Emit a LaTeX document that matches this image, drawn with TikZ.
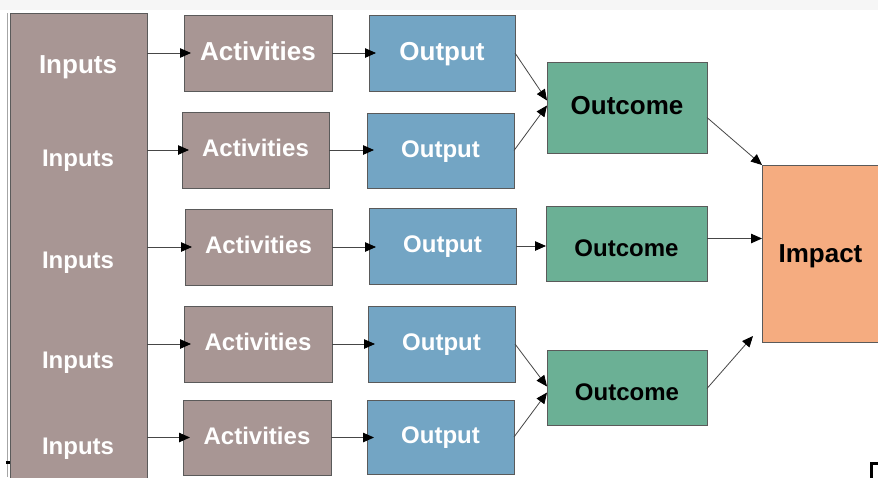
\documentclass[tikz,border=0pt]{standalone}
\usepackage{fontspec}
\setmainfont{Liberation Sans}
\usetikzlibrary{arrows.meta,calc}
\definecolor{brn}{RGB}{168,150,148}
\definecolor{blu}{RGB}{115,165,196}
\definecolor{grn}{RGB}{107,176,149}
\definecolor{org}{RGB}{245,172,128}
\definecolor{edgec}{RGB}{90,90,90}
\definecolor{linec}{RGB}{70,70,70}
\definecolor{topband}{RGB}{246,246,246}
\tikzset{
  box/.style={draw=edgec, line width=0.8pt, inner sep=0pt, outer sep=0pt,
    font=\bfseries\fontsize{24}{28}\selectfont, text height=17.2pt, text depth=4pt},
  bigtxt/.style={font=\bfseries\fontsize{26}{30}\selectfont, text height=18.6pt, text depth=4pt},
  lowtxt/.style={text height=25pt, text depth=0pt},
  lbl/.style={inner sep=0pt, font=\bfseries\fontsize{24}{28}\selectfont, text height=17.2pt, text depth=0pt, text=white},
  conn/.style={draw=linec, line width=0.8pt, -{Triangle[length=11pt,width=9.5pt,color=black]}},
  into/.style={shorten >=-7pt},
}
\newcommand\bx[7]{\node[box,#6,minimum width={#4-#2},minimum height={#5-#3}] (#1) at ({(#2+#4)/2},{(#3+#5)/2}) {#7};}
\begin{document}
\begin{tikzpicture}[x=1pt,y=-1pt]
\useasboundingbox (0,0) rectangle (878,477);
\clip (0,0) rectangle (878,477);
\fill[white] (0,0) rectangle (878,477);
\fill[topband] (0,0) rectangle (878,10);
\draw[gray!70, line width=0.5pt] (7.5,13) -- (7.5,477);
\fill[black] (6,461) rectangle (10,464);
% Inputs column
\bx{inputs}{10}{13}{147}{495}{fill=brn}{}
\node[lbl,bigtxt,text depth=0pt] (in1) at (78,64) {Inputs};
\node[lbl] (in2) at (78,158) {Inputs};
\node[lbl] (in3) at (78,260) {Inputs};
\node[lbl] (in4) at (78,360) {Inputs};
\node[lbl] (in5) at (78,446) {Inputs};
% Activities
\bx{act1}{184}{15}{332}{91}{fill=brn,text=white,bigtxt}{Activities}
\bx{act2}{182}{112}{329}{188}{fill=brn,text=white}{Activities}
\bx{act3}{185}{209}{332}{285}{fill=brn,text=white}{Activities}
\bx{act4}{184}{306}{332}{382}{fill=brn,text=white}{Activities}
\bx{act5}{183}{400}{331}{475}{fill=brn,text=white}{Activities}
% Outputs
\bx{out1}{369}{15}{515}{91}{fill=blu,text=white,bigtxt}{Output}
\bx{out2}{367}{113}{514}{188}{fill=blu,text=white}{Output}
\bx{out3}{369}{208}{516}{284}{fill=blu,text=white}{Output}
\bx{out4}{368}{306}{515}{382}{fill=blu,text=white}{Output}
\bx{out5}{367}{400}{514}{474}{fill=blu,text=white}{Output}
% Outcomes
\bx{oc1}{547}{62}{707}{153}{fill=grn,text=black,bigtxt}{Outcome}
\bx{oc2}{546}{206}{707}{281}{fill=grn,text=black,lowtxt}{Outcome}
\bx{oc3}{547}{350}{707}{425}{fill=grn,text=black,lowtxt}{Outcome}
% Impact
\bx{imp}{762}{165}{879}{342}{fill=org,text=black,bigtxt,text depth=0pt}{Impact}
% Inputs -> Activities, Activities -> Outputs
\foreach \i in {1,...,5}{
  \draw[conn,into] (inputs.east |- act\i.west) -- (act\i.west);
  \draw[conn,into] (act\i.east) -- (act\i.east -| out\i.west);
}
% Outputs -> Outcomes
\draw[conn] (out1.east) -- ([yshift=7pt]oc1.west);
\draw[conn] (out2.east) -- ([yshift=2pt]oc1.west);
\draw[conn] (out3.east) -- (out3.east -| oc2.west);
\draw[conn] (out4.east) -- ([yshift=1pt]oc3.west);
\draw[conn] (out5.east) -- ([yshift=-5pt]oc3.west);
% Outcomes -> Impact
\draw[conn] ([yshift=-10pt]oc1.east) -- (imp.north west);
\coordinate (c2) at ([yshift=5pt]oc2.east);
\draw[conn] (c2) -- (c2 -| imp.west);
\draw[conn] ([yshift=-1pt]oc3.east) -- ([xshift=-9pt,yshift=6pt]imp.south west);
% corner mark
\draw[black, line width=3pt] (871,478) -- (871,463.5) -- (879,463.5);
\end{tikzpicture}
\end{document}
